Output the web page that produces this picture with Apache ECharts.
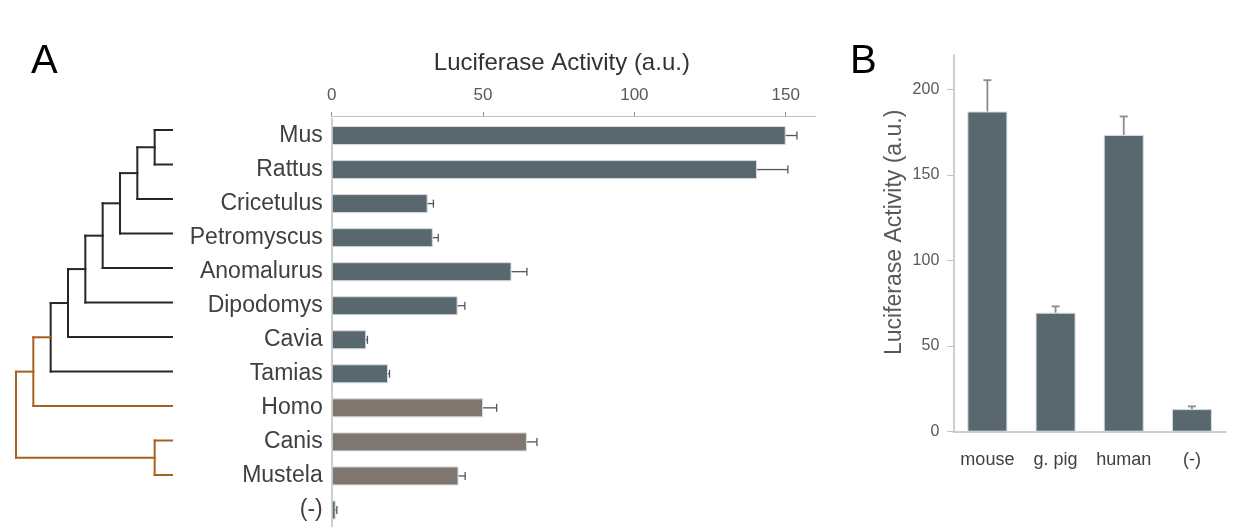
<!DOCTYPE html>
<html>
<head>
<meta charset="utf-8">
<script src="https://cdn.jsdelivr.net/npm/echarts@6/dist/echarts.min.js"></script>
<style>
  html, body { margin: 0; padding: 0; background: #ffffff; }
  #chart { width: 1239px; height: 527px; }
</style>
</head>
<body>
<div id="chart"></div>
<script>
// Panel A: luciferase activity per species (horizontal bars, mean + SEM)
const speciesA = ['Mus', 'Rattus', 'Cricetulus', 'Petromyscus', 'Anomalurus', 'Dipodomys', 'Cavia', 'Tamias', 'Homo', 'Canis', 'Mustela', '(-)'];
const activityA = [150.0, 140.5, 31.7, 33.4, 59.4, 41.6, 11.4, 18.6, 50.0, 64.5, 41.9, 1.3];
const errorA = [3.7, 10.2, 1.9, 1.8, 5.1, 2.4, 0.4, 0.5, 4.5, 3.3, 2.2, 0.4];
const rodents = ['Mus', 'Rattus', 'Cricetulus', 'Petromyscus', 'Anomalurus', 'Dipodomys', 'Cavia', 'Tamias', '(-)'];
const ticksA = [0, 50, 100, 150];

// Cladogram of the species above (nested pairs, leaves in display order)
const phylogeny = [[[[[[[[['Mus', 'Rattus'], 'Cricetulus'], 'Petromyscus'], 'Anomalurus'], 'Dipodomys'], 'Cavia'], 'Tamias'], 'Homo'], ['Canis', 'Mustela']];

// Panel B: luciferase activity per construct (vertical bars, mean + SEM)
const categoriesB = ['mouse', 'g. pig', 'human', '(-)'];
const activityB = [187.0, 69.5, 173.3, 13.2];
const errorB = [18.3, 3.7, 10.8, 1.6];
const ticksB = [0, 50, 100, 150, 200];

const FONT = '"Liberation Sans", Arial, Helvetica, sans-serif';
const SLATE = '#59686e';
const TAUPE = '#807670';
const BRANCH_DARK = '#262626';
const BRANCH_ORANGE = '#a5621f';

// ---- cladogram layout: x = depth from root (leaves aligned), y = leaf index ----
const leaves = [];
(function collect(n) { if (typeof n === 'string') leaves.push(n); else n.forEach(collect); })(phylogeny);
function height(n) { return typeof n === 'string' ? 0 : 1 + Math.max(...n.map(height)); }
function allRodent(n) { return typeof n === 'string' ? rodents.includes(n) : n.every(allRodent); }
const rootHeight = height(phylogeny);
const branches = []; // [x1, y1, x2, y2, dark?]
function layout(n) {
  if (typeof n === 'string') return { x: rootHeight, y: leaves.indexOf(n) };
  const x = rootHeight - height(n);
  const kids = n.map(layout);
  const dark = allRodent(n) ? 1 : 0;
  const ys = kids.map(k => k.y);
  const y0 = Math.min(...ys), y1 = Math.max(...ys);
  branches.push([x, y0, x, y1, dark]);
  kids.forEach(k => branches.push([x, k.y, k.x, k.y, dark]));
  return { x, y: (y0 + y1) / 2 };
}
layout(phylogeny);

const chart = echarts.init(document.getElementById('chart'), null, { renderer: 'canvas' });

const axisGrey = '#bfbfbf';

const option = {
  animation: false,
  backgroundColor: '#ffffff',
  textStyle: { fontFamily: FONT },
  graphic: [
    { type: 'text', left: 31, top: 42, style: { text: 'A', font: '40px ' + FONT, fill: '#000000' } },
    { type: 'text', left: 850, top: 42, style: { text: 'B', font: '40px ' + FONT, fill: '#000000' } }
  ],
  grid: [
    { left: 331.7, right: 423, top: 118.5, height: 408.5 },   // A bars
    { left: 16, width: 156, top: 130, height: 345 },            // tree
    { left: 953.3, width: 272.7, top: 55, height: 376.7 }       // B bars
  ],
  xAxis: [
    {
      gridIndex: 0, type: 'value', position: 'top', offset: 2.5, min: 0, max: 160,
      name: 'Luciferase Activity (a.u.)', nameLocation: 'middle', nameGap: 41,
      nameTextStyle: { fontSize: 24, color: '#333333', fontFamily: FONT, padding: [0, 24, 0, 0] },
      axisLine: { show: true, lineStyle: { color: axisGrey, width: 1 } },
      axisTick: { show: true, length: 4, customValues: ticksA, lineStyle: { color: '#8c8c8c' } },
      axisLabel: { customValues: ticksA, fontSize: 17, color: '#595959', margin: 12, fontFamily: FONT },
      splitLine: { show: false }
    },
    { gridIndex: 1, type: 'value', min: 0, max: rootHeight, show: false },
    {
      gridIndex: 2, type: 'category', data: categoriesB,
      axisLine: { show: true, lineStyle: { color: axisGrey, width: 1.5 } },
      axisTick: { show: false },
      axisLabel: { interval: 0, fontSize: 18, color: '#404040', margin: 19, fontFamily: FONT }
    }
  ],
  yAxis: [
    {
      gridIndex: 0, type: 'category', data: speciesA, inverse: true,
      axisLine: { show: true, lineStyle: { color: axisGrey, width: 1.5 } },
      axisTick: { show: false },
      axisLabel: { interval: 0, fontSize: 23, color: '#404040', margin: 9, fontFamily: FONT }
    },
    { gridIndex: 1, type: 'value', min: 0, max: leaves.length - 1, inverse: true, show: false },
    {
      gridIndex: 2, type: 'value', min: 0, max: 220,
      name: 'Luciferase Activity (a.u.)', nameLocation: 'middle', nameRotate: 90, nameGap: 47,
      nameTextStyle: { fontSize: 23, color: '#595959', fontFamily: FONT, padding: [0, 0, 0, 22] },
      axisLine: { show: true, lineStyle: { color: axisGrey, width: 1.5 } },
      axisTick: { show: true, length: 6, customValues: ticksB, lineStyle: { color: axisGrey } },
      axisLabel: { customValues: ticksB, fontSize: 16, color: '#595959', margin: 14, fontFamily: FONT },
      splitLine: { show: false }
    }
  ],
  series: [
    {
      type: 'bar', xAxisIndex: 0, yAxisIndex: 0, barWidth: 19,
      data: activityA.map((v, i) => ({
        value: v,
        itemStyle: { color: rodents.includes(speciesA[i]) ? SLATE : TAUPE }
      })),
      itemStyle: { borderColor: '#d6dadc', borderWidth: 1 }
    },
    {
      type: 'custom', xAxisIndex: 0, yAxisIndex: 0, z: 5,
      data: activityA.map((v, i) => [v, i, errorA[i]]),
      renderItem: function (params, api) {
        const v = api.value(0), i = api.value(1), e = api.value(2);
        const a = api.coord([v, i]);
        const b = api.coord([v + e, i]);
        const st = { stroke: '#555555', lineWidth: 1.3 };
        return {
          type: 'group',
          children: [
            { type: 'line', shape: { x1: a[0], y1: a[1], x2: b[0], y2: b[1] }, style: st },
            { type: 'line', shape: { x1: b[0], y1: b[1] - 4, x2: b[0], y2: b[1] + 4 }, style: st }
          ]
        };
      }
    },
    {
      type: 'custom', xAxisIndex: 1, yAxisIndex: 1,
      data: branches,
      renderItem: function (params, api) {
        const p = api.coord([api.value(0), api.value(1)]);
        const q = api.coord([api.value(2), api.value(3)]);
        return {
          type: 'line',
          shape: { x1: p[0], y1: p[1], x2: q[0], y2: q[1] },
          style: { stroke: api.value(4) ? BRANCH_DARK : BRANCH_ORANGE, lineWidth: 2, lineCap: 'square' }
        };
      }
    },
    {
      type: 'bar', xAxisIndex: 2, yAxisIndex: 2, barWidth: 40,
      data: activityB,
      itemStyle: { color: SLATE, borderColor: '#d6dadc', borderWidth: 1 }
    },
    {
      type: 'custom', xAxisIndex: 2, yAxisIndex: 2, z: 5,
      data: activityB.map((v, i) => [i, v, errorB[i]]),
      renderItem: function (params, api) {
        const i = api.value(0), v = api.value(1), e = api.value(2);
        const a = api.coord([i, v]);
        const b = api.coord([i, v + e]);
        const st = { stroke: '#8c8c8c', lineWidth: 1.8 };
        return {
          type: 'group',
          children: [
            { type: 'line', shape: { x1: a[0], y1: a[1], x2: b[0], y2: b[1] }, style: st },
            { type: 'line', shape: { x1: b[0] - 4, y1: b[1], x2: b[0] + 4, y2: b[1] }, style: st }
          ]
        };
      }
    }
  ]
};

chart.setOption(option);
</script>
</body>
</html>
